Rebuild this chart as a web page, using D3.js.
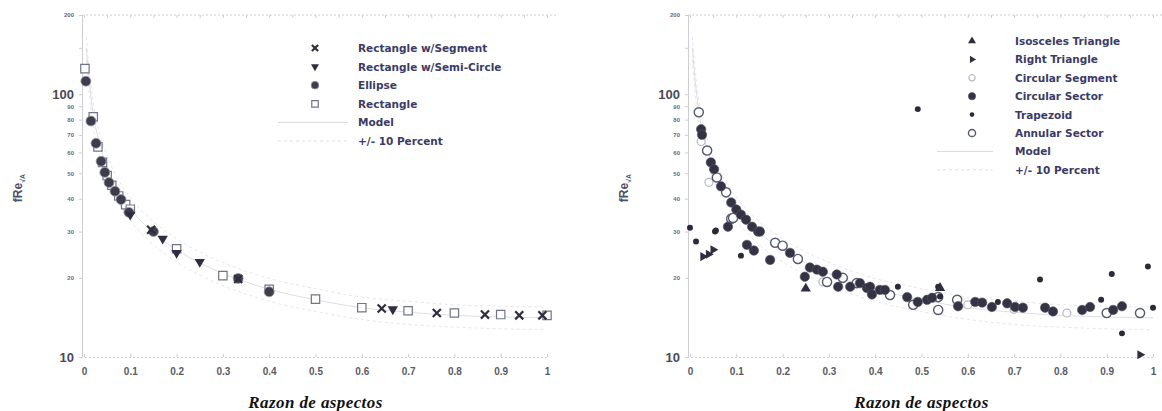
<!DOCTYPE html>
<html>
<head>
<meta charset="utf-8">
<script src="https://cdn.jsdelivr.net/npm/d3@7"></script>
<style>
  body { margin: 0; background: #fff; }
  svg { display: block; }
</style>
</head>
<body>
<svg id="chart" width="1162" height="411"></svg>
<script>
// ---- data ----
let xTicks = [0, 0.1, 0.2, 0.3, 0.4, 0.5, 0.6, 0.7, 0.8, 0.9, 1];
let yTicks = [10, 20, 30, 40, 50, 60, 70, 80, 90, 100, 150, 200];

// model curve (and +/- 10 percent band) as drawn faintly in both panels
let modelX  = [0.005, 0.01, 0.02, 0.03, 0.05, 0.07, 0.1, 0.15, 0.2, 0.25, 0.3, 0.4, 0.5, 0.6, 0.7, 0.8, 0.9, 1.0];
let modelY  = [150, 118, 84, 68.6, 52.8, 44.3, 36.8, 29.7, 25.6, 22.8, 20.8, 18.1, 16.5, 15.4, 14.8, 14.4, 14.2, 14.1];
let modelHi = [165, 130, 92.4, 75.5, 58.1, 48.7, 40.5, 32.7, 28.2, 25.1, 22.9, 19.9, 18.2, 16.9, 16.3, 15.8, 15.6, 15.5];
let modelLo = [135, 106, 75.6, 61.7, 47.5, 39.9, 33.1, 26.7, 23.0, 20.5, 18.7, 16.3, 14.9, 13.9, 13.3, 13.0, 12.8, 12.7];

// left panel
let segX = [0.145, 0.333, 0.643, 0.762, 0.866, 0.94, 0.99];
let segY = [30.5, 19.8, 15.3, 14.7, 14.5, 14.4, 14.4];
let semiX = [0.1, 0.17, 0.2, 0.25, 0.667];
let semiY = [34.8, 28.2, 24.9, 23.0, 15.2];
let ellX = [0.004, 0.015, 0.026, 0.037, 0.045, 0.054, 0.067, 0.08, 0.097, 0.15, 0.333, 0.4];
let ellY = [112, 79, 65, 55.5, 50.4, 46.1, 42.7, 39.7, 35.5, 30, 19.9, 17.7];
let rectX = [0.002, 0.02, 0.03, 0.04, 0.05, 0.06, 0.075, 0.09, 0.1, 0.2, 0.3, 0.4, 0.5, 0.6, 0.7, 0.8, 0.9, 1.0];
let rectY = [125, 82, 63, 55, 49, 45, 41, 38, 36.5, 25.8, 20.4, 18.1, 16.6, 15.4, 15.0, 14.7, 14.5, 14.4];

// right panel
let isoX = [0.25, 0.54];
let isoY = [18.2, 18.3];
let rightX = [0.028, 0.04, 0.05, 0.972];
let rightY = [24.1, 24.6, 25.6, 10.2];
let cSegX = [0.024, 0.041, 0.287, 0.6, 0.7, 0.814];
let cSegY = [66, 46.2, 19.3, 15.8, 15.2, 14.7];
let cSecX = [0.024, 0.026, 0.045, 0.052, 0.067, 0.089, 0.1, 0.11, 0.121, 0.134, 0.147, 0.151, 0.082, 0.123, 0.138,
             0.173, 0.216, 0.248, 0.259, 0.274, 0.287, 0.317, 0.32, 0.346, 0.367, 0.382, 0.389, 0.393, 0.41, 0.421,
             0.469, 0.492, 0.512, 0.523, 0.579, 0.616, 0.631, 0.652, 0.685, 0.702, 0.719, 0.767, 0.784, 0.847,
             0.864, 0.914, 0.933];
let cSecY = [73.5, 70, 55, 51.8, 44.6, 38.7, 36.4, 34.8, 33.3, 31.3, 30.0, 30, 31.3, 26.7, 25.4,
             23.4, 24.9, 20.2, 21.9, 21.5, 21.1, 20.6, 18.5, 18.5, 19.1, 18.3, 18.5, 17.3, 18.0, 18.0,
             16.9, 16.2, 16.5, 16.8, 15.6, 16.2, 16.1, 15.5, 16.0, 15.5, 15.4, 15.4, 14.9, 15.1,
             15.5, 15.1, 15.6];
let trapX = [0.0, 0.013, 0.054, 0.056, 0.11, 0.449, 0.492, 0.536, 0.54, 0.665, 0.756, 0.888, 0.911, 0.933, 0.989, 1.0];
let trapY = [31, 27.5, 30, 30.3, 24.3, 18.5, 87.7, 18.5, 17, 16.2, 19.7, 16.5, 20.7, 12.3, 22.1, 15.4];
let annX = [0.019, 0.037, 0.058, 0.078, 0.089, 0.093, 0.184, 0.2, 0.233, 0.296, 0.33, 0.36, 0.432, 0.482,
            0.536, 0.536, 0.577, 0.9, 0.972];
let annY = [85.3, 61, 48.2, 42.3, 33.6, 33.8, 27.2, 26.5, 23.6, 19.3, 20.0, 19.1, 17.2, 15.8,
            16.9, 15.1, 16.5, 14.7, 14.7];

let leftLegend = ["Rectangle w/Segment", "Rectangle w/Semi-Circle", "Ellipse", "Rectangle", "Model", "+/- 10 Percent"];
let rightLegend = ["Isosceles Triangle", "Right Triangle", "Circular Segment", "Circular Sector", "Trapezoid",
                   "Annular Sector", "Model", "+/- 10 Percent"];

// ---- styles ----
let ink = "#2e2e40";
let navy = "#3b3b66";
let faint = "#cdcdd6";
let markStyle = {
    seg:   {type: d3.symbolTimes, size: 44, fill: "none", stroke: ink, sw: 2.2, rot: 0},
    semi:  {type: d3.symbolTriangle, size: 46, fill: ink, stroke: "none", sw: 0, rot: 180},
    ell:   {type: d3.symbolCircle, size: 78, fill: "#3d3d4c", stroke: "#9a9aa8", sw: 0.8, rot: 0},
    rect:  {type: d3.symbolSquare, size: 70, fill: "#fff", stroke: "#70748c", sw: 1.2, rot: 0},
    iso:   {type: d3.symbolTriangle, size: 46, fill: ink, stroke: "none", sw: 0, rot: 0},
    right: {type: d3.symbolTriangle, size: 36, fill: ink, stroke: "none", sw: 0, rot: 90},
    cseg:  {type: d3.symbolCircle, size: 50, fill: "#fff", stroke: "#b8b8c4", sw: 1.2, rot: 0},
    csec:  {type: d3.symbolCircle, size: 70, fill: "#333344", stroke: "#55556a", sw: 0.6, rot: 0},
    trap:  {type: d3.symbolCircle, size: 28, fill: "#2a2a38", stroke: "none", sw: 0, rot: 0},
    ann:   {type: d3.symbolCircle, size: 66, fill: "#fff", stroke: "#555a70", sw: 1.4, rot: 0}
};

let svg = d3.select("#chart");
svg.append("rect").attr("width", 1162).attr("height", 411).attr("fill", "#fff");

function drawPanel(x0, x1, series, legendNames, legendKeys, legendX, legendY0, legendStep, lineX0, lineX1) {
    let x = d3.scaleLinear().domain([0, 1]).range([x0, x1]);
    let y = d3.scaleLog().domain([10, 200]).range([357, 15]);
    let g = svg.append("g");

    // top frame line
    let top = g.append("g").attr("transform", "translate(0,15)")
        .call(d3.axisTop(x).tickValues(d3.range(0, 1.0001, 0.05)).tickSize(-3).tickFormat(""));
    top.select(".domain").attr("stroke", faint).attr("stroke-dasharray", "2,2").attr("d", `M${x0 - 2},0H${x1 + 10}`);
    top.selectAll(".tick line").attr("stroke", faint);

    // bottom axis
    let bottom = g.append("g").attr("transform", "translate(0,357)")
        .call(d3.axisBottom(x).tickValues(xTicks).tickSize(-3).tickPadding(11)
            .tickFormat(d => d == 0 ? "0" : d == 1 ? "1" : d3.format(".1f")(d)));
    bottom.select(".domain").attr("stroke", faint).attr("stroke-dasharray", "2,2");
    bottom.selectAll(".tick line").attr("stroke", faint);
    bottom.selectAll("text").attr("font-family", "Liberation Sans, Arial, sans-serif")
        .attr("font-weight", "bold").attr("font-size", 10).attr("fill", "#5a5a66");

    // left axis
    let left = g.append("g").attr("transform", `translate(${x0 - 2},0)`)
        .call(d3.axisLeft(y).tickValues(yTicks).tickSize(3).tickPadding(5)
            .tickFormat(d => d == 150 ? "" : d));
    left.select(".domain").attr("stroke", faint);
    left.selectAll(".tick line").attr("stroke", faint);
    left.selectAll("text").attr("font-family", "Liberation Sans, Arial, sans-serif")
        .attr("font-weight", "bold")
        .attr("font-size", d => (d == 100 || d == 10) ? 13 : 6)
        .attr("fill", d => (d == 100 || d == 10) ? "#4a4a58" : "#6a6a78");

    // y title
    let yt = g.append("text")
        .attr("transform", `translate(${x0 - 62},188) rotate(-90)`)
        .attr("text-anchor", "middle")
        .attr("font-family", "Liberation Sans, Arial, sans-serif")
        .attr("font-weight", "bold").attr("font-size", 12).attr("fill", "#50506a");
    yt.append("tspan").text("fRe");
    yt.append("tspan").attr("font-size", 7).attr("dy", 3).text("√A");

    // x title
    g.append("text")
        .attr("x", (x0 + x1) / 2).attr("y", 408)
        .attr("text-anchor", "middle")
        .attr("font-family", "Liberation Serif, Times New Roman, serif")
        .attr("font-style", "italic").attr("font-weight", "bold")
        .attr("font-size", 17).attr("letter-spacing", 0.4).attr("fill", "#111")
        .text("Razon de aspectos");

    // model + band (very faint in the scan)
    let line = d3.line().x(d => x(d[0])).y(d => y(d[1])).curve(d3.curveMonotoneX);
    g.append("path").datum(d3.zip(modelX, modelY)).attr("d", line)
        .attr("fill", "none").attr("stroke", "#dedee6").attr("stroke-width", 1);
    for (let band of [modelHi, modelLo]) {
        g.append("path").datum(d3.zip(modelX, band)).attr("d", line)
            .attr("fill", "none").attr("stroke", "#e6e6ec").attr("stroke-width", 1)
            .attr("stroke-dasharray", "3,3");
    }

    // points
    let clip = "clip" + x0;
    svg.append("clipPath").attr("id", clip).append("rect")
        .attr("x", x0 - 8).attr("y", 10).attr("width", x1 - x0 + 20).attr("height", 352);
    let pts = g.append("g").attr("clip-path", `url(#${clip})`);
    for (let s of series) {
        let st = markStyle[s.key];
        pts.selectAll(null).data(d3.zip(s.xs, s.ys)).enter()
            .append("path")
            .attr("d", d3.symbol().type(st.type).size(st.size))
            .attr("transform", d => `translate(${x(d[0])},${y(d[1])}) rotate(${st.rot})`)
            .attr("fill", st.fill).attr("stroke", st.stroke).attr("stroke-width", st.sw);
    }

    // legend
    legendNames.forEach((name, i) => {
        let ly = legendY0 + i * legendStep;
        let key = legendKeys[i];
        if (key == "model" || key == "band") {
            g.append("line").attr("x1", lineX0).attr("x2", lineX1).attr("y1", ly).attr("y2", ly)
                .attr("stroke", key == "model" ? "#d8d8e0" : "#e0e0e6")
                .attr("stroke-dasharray", key == "model" ? null : "3,3");
        } else {
            let st = markStyle[key];
            g.append("path")
                .attr("d", d3.symbol().type(st.type).size(st.size * 0.6))
                .attr("transform", `translate(${legendX},${ly}) rotate(${st.rot})`)
                .attr("fill", st.fill).attr("stroke", st.stroke).attr("stroke-width", st.sw);
        }
        g.append("text")
            .attr("x", legendX + 43).attr("y", ly + 4)
            .attr("font-family", "DejaVu Sans, Verdana, sans-serif")
            .attr("font-weight", "bold").attr("font-size", 10.5).attr("fill", navy)
            .text(name);
    });
}

drawPanel(84, 547,
    [{key: "rect", xs: rectX, ys: rectY},
     {key: "ell", xs: ellX, ys: ellY},
     {key: "semi", xs: semiX, ys: semiY},
     {key: "seg", xs: segX, ys: segY}],
    leftLegend, ["seg", "semi", "ell", "rect", "model", "band"],
    315, 48, 18.6, 278, 348);

drawPanel(690, 1153,
    [{key: "cseg", xs: cSegX, ys: cSegY},
     {key: "ann", xs: annX, ys: annY},
     {key: "csec", xs: cSecX, ys: cSecY},
     {key: "trap", xs: trapX, ys: trapY},
     {key: "right", xs: rightX, ys: rightY},
     {key: "iso", xs: isoX, ys: isoY}],
    rightLegend, ["iso", "right", "cseg", "csec", "trap", "ann", "model", "band"],
    972, 41, 18.4, 937, 993);
</script>
</body>
</html>
